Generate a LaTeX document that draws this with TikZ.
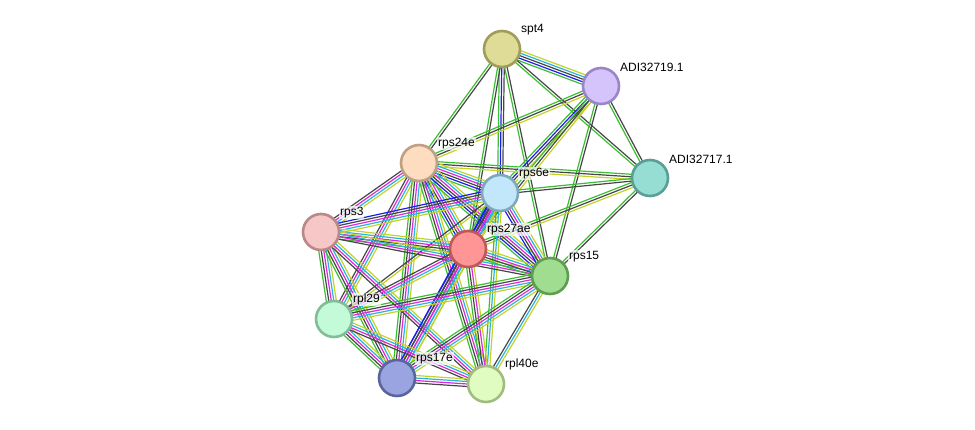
\documentclass[tikz,border=0pt]{standalone}
\usepackage{fontspec}
\setmainfont{Liberation Sans}
\usepackage{tikz}
\usetikzlibrary{calc}
\definecolor{evgreen}{RGB}{60,190,50}
\definecolor{evblue}{RGB}{30,30,235}
\definecolor{evblack}{RGB}{70,70,70}
\definecolor{evpink}{RGB}{220,40,220}
\definecolor{evcyan}{RGB}{40,180,220}
\definecolor{evyellow}{RGB}{195,210,40}
\pgfdeclarelayer{bg}
\pgfsetlayers{bg,main}
\tikzstyle{protein} = [circle, minimum size=36pt, inner sep=0pt, line width=2.6pt]
\tikzstyle{plabel} = [xshift=4.5pt, yshift=-0.5pt, font=\fontsize{12}{14}\selectfont, fill=white, fill opacity=0.7, text opacity=1, inner sep=0.8pt]
\tikzstyle{evidence} = [line width=1.2pt]
% one line per evidence channel, side by side
\newcommand{\evid}[3]{%
  \foreach \c [count=\k] in {#3} {\xdef\nev{\k}}%
  \foreach \c [count=\k] in {#3} {%
    \pgfmathsetmacro\off{(\k-(\nev+1)/2)*2.5}%
    \draw[evidence,\c] ($(#1)!\off pt!90:(#2)$) -- ($(#2)!\off pt!-90:(#1)$);
  }}

\begin{document}
\begin{tikzpicture}[x=1pt,y=-1pt]
\useasboundingbox (0,0) rectangle (975,429);
\node[protein, fill={rgb,255:red,223;green,220;blue,151}, draw={rgb,255:red,160;green,157;blue,90}, label={[plabel]north east:spt4}] (spt4) at (502,49) {};
\node[protein, fill={rgb,255:red,212;green,196;blue,251}, draw={rgb,255:red,154;green,133;blue,200}, label={[plabel]north east:ADI32719.1}] (adi19) at (601,86) {};
\node[protein, fill={rgb,255:red,150;green,221;blue,211}, draw={rgb,255:red,91;green,158;blue,149}, label={[plabel]north east:ADI32717.1}] (adi17) at (650,178) {};
\node[protein, fill={rgb,255:red,254;green,220;blue,191}, draw={rgb,255:red,192;green,160;blue,132}, label={[plabel]north east:rps24e}] (rps24e) at (419,163) {};
\node[protein, fill={rgb,255:red,195;green,231;blue,250}, draw={rgb,255:red,128;green,168;blue,189}, label={[plabel]north east:rps6e}] (rps6e) at (500,193) {};
\node[protein, fill={rgb,255:red,246;green,199;blue,199}, draw={rgb,255:red,187;green,136;blue,136}, label={[plabel]north east:rps3}] (rps3) at (321,232) {};
\node[protein, fill={rgb,255:red,255;green,149;blue,149}, draw={rgb,255:red,192;green,88;blue,88}, label={[plabel]north east:rps27ae}] (rps27ae) at (468,249) {};
\node[protein, fill={rgb,255:red,160;green,221;blue,145}, draw={rgb,255:red,93;green,158;blue,80}, label={[plabel]north east:rps15}] (rps15) at (550,276) {};
\node[protein, fill={rgb,255:red,195;green,251;blue,217}, draw={rgb,255:red,130;green,189;blue,153}, label={[plabel]north east:rpl29}] (rpl29) at (334,319) {};
\node[protein, fill={rgb,255:red,153;green,164;blue,224}, draw={rgb,255:red,90;green,101;blue,160}, label={[plabel]north east:rps17e}] (rps17e) at (397,378) {};
\node[protein, fill={rgb,255:red,224;green,252;blue,193}, draw={rgb,255:red,160;green,188;blue,130}, label={[plabel]north east:rpl40e}] (rpl40e) at (486,384) {};

\begin{pgfonlayer}{bg}
\evid{spt4}{adi19}{evgreen,evblue,evblack,evcyan,evyellow}
\evid{spt4}{adi17}{evgreen,evblack}
\evid{spt4}{rps24e}{evgreen,evblack}
\evid{spt4}{rps6e}{evgreen,evblue,evblack}
\evid{spt4}{rps27ae}{evgreen,evblack}
\evid{spt4}{rps15}{evgreen,evblack}
\evid{adi19}{adi17}{evgreen,evblack}
\evid{adi19}{rps24e}{evgreen,evblack,evyellow}
\evid{adi19}{rps6e}{evgreen,evblue,evblack,evyellow}
\evid{adi19}{rps27ae}{evgreen,evblack,evyellow}
\evid{adi19}{rps15}{evgreen,evblack}
\evid{adi17}{rps24e}{evgreen,evblack,evyellow}
\evid{adi17}{rps6e}{evgreen,evblack}
\evid{adi17}{rps27ae}{evgreen,evblack,evyellow}
\evid{adi17}{rps15}{evgreen,evblack}
\evid{rps24e}{rps6e}{evgreen,evblue,evblack,evpink,evcyan,evyellow}
\evid{rps24e}{rps3}{evblack,evpink,evcyan,evyellow}
\evid{rps24e}{rps27ae}{evgreen,evblue,evblack,evpink,evcyan,evyellow}
\evid{rps24e}{rps15}{evgreen,evblue,evblack,evpink,evcyan,evyellow}
\evid{rps24e}{rpl29}{evblack,evpink,evcyan,evyellow}
\evid{rps24e}{rps17e}{evgreen,evblack,evpink,evcyan,evyellow}
\evid{rps24e}{rpl40e}{evgreen,evblack,evpink,evcyan,evyellow}
\evid{rps6e}{rps3}{evblue,evblack,evpink,evcyan,evyellow}
\evid{rps6e}{rps27ae}{evgreen,evblue,evblack,evpink,evcyan,evyellow}
\evid{rps6e}{rps15}{evblue,evblack,evpink,evcyan,evyellow}
\evid{rps6e}{rpl29}{evblack,evyellow}
\evid{rps6e}{rps17e}{evblue,evblack,evpink,evcyan,evyellow}
\evid{rps6e}{rpl40e}{evgreen,evcyan,evyellow}
\evid{rps3}{rps27ae}{evgreen,evblack,evpink,evcyan,evyellow}
\evid{rps3}{rps15}{evblack,evpink,evcyan,evyellow}
\evid{rps3}{rpl29}{evgreen,evblack,evpink,evcyan,evyellow}
\evid{rps3}{rps17e}{evgreen,evblack,evpink,evcyan,evyellow}
\evid{rps3}{rpl40e}{evblack,evpink,evcyan,evyellow}
\evid{rps27ae}{rps15}{evgreen,evblack,evpink,evcyan,evyellow}
\evid{rps27ae}{rpl29}{evblack,evpink,evcyan,evyellow}
\evid{rps27ae}{rps17e}{evblue,evblack,evpink,evcyan,evyellow}
\evid{rps27ae}{rpl40e}{evgreen,evblack,evpink,evyellow}
\evid{rps15}{rpl29}{evgreen,evblack,evpink,evcyan,evyellow}
\evid{rps15}{rps17e}{evgreen,evblack,evpink,evcyan,evyellow}
\evid{rps15}{rpl40e}{evblack,evcyan,evyellow}
\evid{rpl29}{rps17e}{evgreen,evblack,evpink,evcyan,evyellow}
\evid{rpl29}{rpl40e}{evblack,evpink,evcyan,evyellow}
\evid{rps17e}{rpl40e}{evblack,evpink,evcyan,evyellow}
\end{pgfonlayer}
\end{tikzpicture}
\end{document}
